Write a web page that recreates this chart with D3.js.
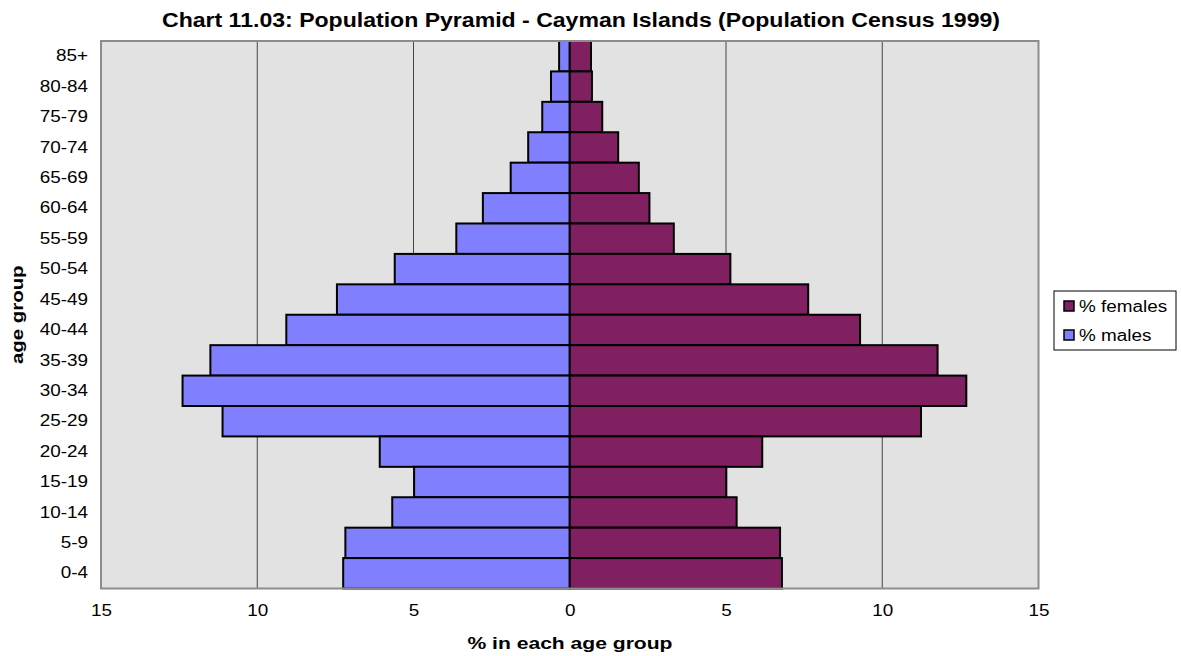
<!DOCTYPE html>
<html>
<head>
<meta charset="utf-8">
<script src="https://cdn.jsdelivr.net/npm/d3@7"></script>
<style>
  body { margin: 0; background: #fff; }
  text { font-family: "Liberation Sans", Arial, sans-serif; }
</style>
</head>
<body>
<svg id="chart"></svg>
<script>
const ageGroups = ["85+", "80-84", "75-79", "70-74", "65-69", "60-64", "55-59", "50-54", "45-49",
                   "40-44", "35-39", "30-34", "25-29", "20-24", "15-19", "10-14", "5-9", "0-4"];
const males   = [0.34, 0.6, 0.88, 1.33, 1.89, 2.78, 3.63, 5.6, 7.45,
                  9.07, 11.5, 12.39, 11.11, 6.08, 4.98, 5.68, 7.18, 7.25];
const females = [0.68, 0.71, 1.04, 1.55, 2.21, 2.55, 3.33, 5.14, 7.63,
                  9.29, 11.77, 12.69, 11.24, 6.16, 5.01, 5.34, 6.73, 6.79];
const xTicks = [-15, -10, -5, 0, 5, 10, 15];

const width = 1181;
const height = 656;
const margin = {top: 41, right: 142.5, bottom: 67.5, left: 101};
const viewWidth = width - margin.left - margin.right;
const viewHeight = height - margin.top - margin.bottom;

// the original text is drawn a little wider than the font, so stretch it
function stretch(sel, factor) {
  sel.each(function() {
    const w = this.getComputedTextLength();
    d3.select(this)
      .attr("textLength", w * factor)
      .attr("lengthAdjust", "spacingAndGlyphs");
  });
}

const svg = d3.select("#chart")
              .attr("width", width)
              .attr("height", height);

const g = svg.append("g")
             .attr("transform", "translate(" + margin.left + "," + margin.top + ")");

const x = d3.scaleLinear().domain([-15, 15]).range([0, viewWidth]);
const y = d3.scaleBand().domain(ageGroups).range([0, viewHeight]).padding(0);

// plot background
g.append("rect")
 .attr("width", viewWidth)
 .attr("height", viewHeight)
 .style("fill", "#e2e2e2");

// vertical gridlines
g.append("g")
 .selectAll("line")
 .data(xTicks.filter(d => Math.abs(d) !== 15))
 .enter()
 .append("line")
 .attr("x1", d => x(d))
 .attr("x2", d => x(d))
 .attr("y1", 0)
 .attr("y2", viewHeight)
 .style("stroke", "#444")
 .style("stroke-width", 1);

const rows = ageGroups.map((a, i) => ({age: a, m: males[i], f: females[i]}));

g.append("g")
 .selectAll("rect")
 .data(rows)
 .enter()
 .append("rect")
 .attr("x", d => x(-d.m))
 .attr("y", d => y(d.age))
 .attr("width", d => x(0) - x(-d.m))
 .attr("height", y.bandwidth())
 .style("fill", "#8080ff")
 .style("stroke", "#000")
 .style("stroke-width", 2);

g.append("g")
 .selectAll("rect")
 .data(rows)
 .enter()
 .append("rect")
 .attr("x", x(0))
 .attr("y", d => y(d.age))
 .attr("width", d => x(d.f) - x(0))
 .attr("height", y.bandwidth())
 .style("fill", "#802060")
 .style("stroke", "#000")
 .style("stroke-width", 2);

// plot border
g.append("rect")
 .attr("width", viewWidth)
 .attr("height", viewHeight)
 .style("fill", "none")
 .style("stroke", "#8c8c8c")
 .style("stroke-width", 2);

// axes
const xAxis = g.append("g")
               .attr("transform", "translate(0," + viewHeight + ")")
               .call(d3.axisBottom(x).tickValues(xTicks).tickSize(0).tickPadding(16)
                       .tickFormat(d => Math.abs(d)));
xAxis.select(".domain").remove();
xAxis.selectAll("text")
     .style("font-size", "16px")
     .style("font-family", "Liberation Sans, Arial, sans-serif")
     .call(stretch, 1.18);

const yAxis = g.append("g")
               .call(d3.axisLeft(y).tickSize(0).tickPadding(13));
yAxis.select(".domain").remove();
yAxis.selectAll("text")
     .style("font-size", "16px")
     .style("font-family", "Liberation Sans, Arial, sans-serif")
     .call(stretch, 1.18);

// titles
svg.append("text")
   .attr("x", 581)
   .attr("y", 27)
   .attr("text-anchor", "middle")
   .attr("textLength", 838)
   .attr("lengthAdjust", "spacingAndGlyphs")
   .style("font-size", "20px")
   .style("font-weight", "bold")
   .text("Chart 11.03: Population Pyramid - Cayman Islands (Population Census 1999)");

svg.append("text")
   .attr("x", 570)
   .attr("y", 649)
   .attr("text-anchor", "middle")
   .style("font-size", "17px")
   .style("font-weight", "bold")
   .text("% in each age group")
   .call(stretch, 1.24);

svg.append("text")
   .attr("transform", "translate(23," + (margin.top + viewHeight / 2) + ") rotate(-90)")
   .attr("text-anchor", "middle")
   .style("font-size", "17px")
   .style("font-weight", "bold")
   .text("age group")
   .call(stretch, 1.2);

// legend
const legendData = [{label: "% females", color: "#802060"}, {label: "% males", color: "#8080ff"}];
const legend = svg.append("g").attr("transform", "translate(1054,291)");
legend.append("rect")
      .attr("width", 122)
      .attr("height", 59)
      .style("fill", "#fff")
      .style("stroke", "#000")
      .style("stroke-width", 1);
const items = legend.selectAll(".item")
                    .data(legendData)
                    .enter()
                    .append("g")
                    .attr("transform", (d, i) => "translate(10," + (15 + i * 29) + ")");
items.append("rect")
     .attr("x", 0)
     .attr("y", -5)
     .attr("width", 10)
     .attr("height", 10)
     .style("fill", d => d.color)
     .style("stroke", "#000")
     .style("stroke-width", 1.5);
items.append("text")
     .attr("x", 15)
     .attr("y", 6)
     .style("font-size", "16px")
     .text(d => d.label)
     .call(stretch, 1.18);
</script>
</body>
</html>
